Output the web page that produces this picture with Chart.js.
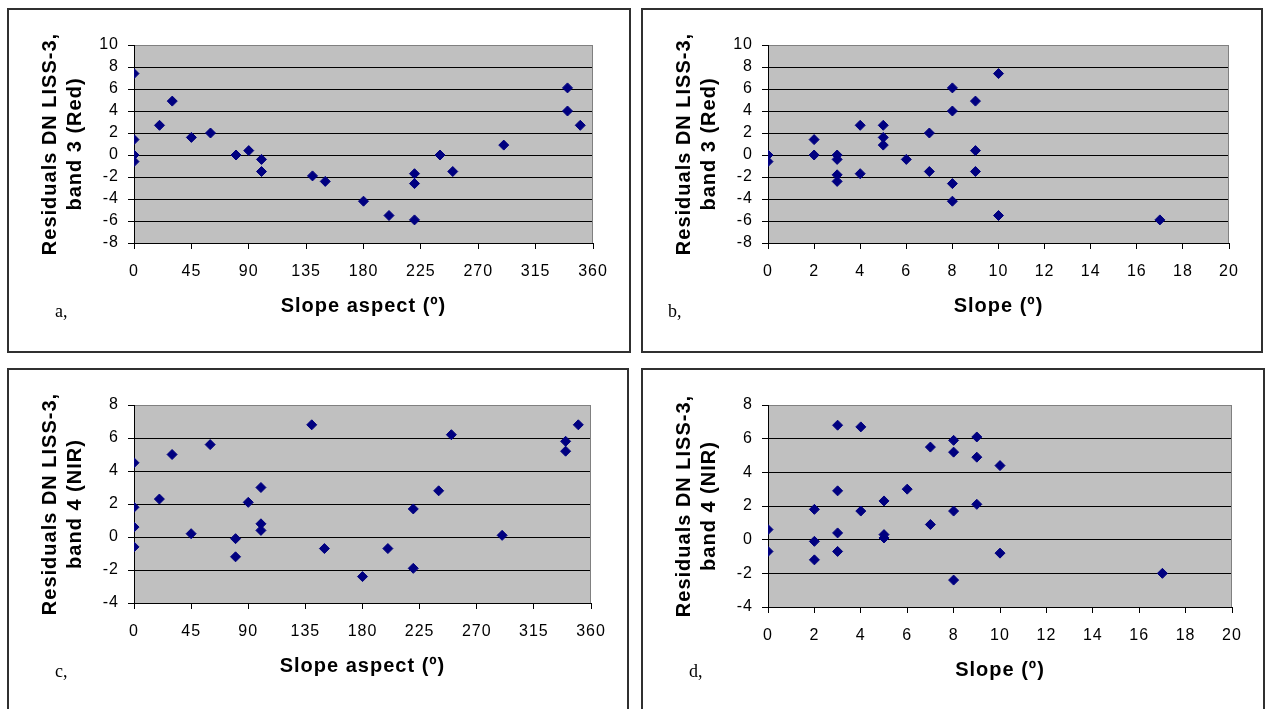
<!DOCTYPE html>
<html>
<head>
<meta charset="utf-8">
<title>Residuals DN LISS-3 vs slope and aspect</title>
<script src="https://cdn.jsdelivr.net/npm/chart.js@4.4.1/dist/chart.umd.min.js"></script>
<style>
    html, body { margin: 0; padding: 0; background: #fff; overflow: hidden; }
    body { width: 1266px; height: 709px; position: relative; }
    .frame { position: absolute; border: 2px solid #303030; box-sizing: border-box; }
    canvas { position: absolute; }
    .tag { position: absolute; font-family: 'Liberation Serif', 'Times New Roman', serif; font-size: 18px; line-height: 20px; color: #000; }
</style>
</head>
<body>
<div class="frame" style="left:7px;top:8px;width:624px;height:345px"></div>
<div class="frame" style="left:641px;top:8px;width:622px;height:345px"></div>
<div class="frame" style="left:7px;top:368px;width:622px;height:400px"></div>
<div class="frame" style="left:641px;top:368px;width:624px;height:400px"></div>

<canvas id="panelA" width="622" height="343" style="left:8px;top:9px"></canvas>
<canvas id="panelB" width="620" height="343" style="left:642px;top:9px"></canvas>
<canvas id="panelC" width="620" height="343" style="left:8px;top:369px"></canvas>
<canvas id="panelD" width="621" height="347" style="left:642px;top:369px"></canvas>

<div class="tag" style="left:55px;top:301px">a,</div>
<div class="tag" style="left:668px;top:301px">b,</div>
<div class="tag" style="left:55px;top:661px">c,</div>
<div class="tag" style="left:689px;top:661px">d,</div>

<script>
// band 3 (red) residuals against slope aspect and slope
const aspectRed = [0, 0, 0, 0, 20, 30, 45, 60, 80, 90, 100, 100, 140, 150, 180, 200, 220, 220, 220, 240, 250, 290, 340, 340, 350];
const residRedByAspect = [7.4, 1.4, 0, -0.6, 2.7, 4.9, 1.6, 2.0, 0, 0.4, -0.4, -1.5, -1.9, -2.4, -4.2, -5.5, -1.7, -2.6, -5.9, 0, -1.5, 0.9, 6.1, 4.0, 2.7];
const slopeRed = [0, 0, 2, 2, 3, 3, 3, 3, 4, 4, 5, 5, 5, 6, 7, 7, 8, 8, 8, 8, 9, 9, 9, 10, 10, 17];
const residRedBySlope = [0, -0.6, 1.4, 0, 0, -0.4, -1.8, -2.4, 2.7, -1.7, 2.7, 1.6, 0.9, -0.4, 2.0, -1.5, 6.1, 4.0, -2.6, -4.2, 4.9, 0.4, -1.5, 7.4, -5.5, -5.9];

// band 4 (NIR) residuals against slope aspect and slope
const aspectNir = [0, 0, 0, 0, 20, 30, 45, 60, 80, 80, 90, 100, 100, 100, 140, 150, 180, 200, 220, 220, 240, 250, 290, 340, 340, 350];
const residNirByAspect = [4.5, 1.8, 0.6, -0.6, 2.3, 5.0, 0.2, 5.6, -0.1, -1.2, 2.1, 3.0, 0.8, 0.4, 6.8, -0.7, -2.4, -0.7, 1.7, -1.9, 2.8, 6.2, 0.1, 5.8, 5.2, 6.8];
const slopeNir = [0, 0, 2, 2, 2, 3, 3, 3, 3, 4, 4, 5, 5, 5, 6, 7, 7, 8, 8, 8, 8, 9, 9, 9, 10, 10, 17];
const residNirBySlope = [0.6, -0.7, 1.8, -0.1, -1.2, 6.8, 2.9, 0.4, -0.7, 6.7, 1.7, 2.3, 0.3, 0.1, 3.0, 5.5, 0.9, 5.9, 5.2, 1.7, -2.4, 6.1, 4.9, 2.1, 4.4, -0.8, -2.0];

// axis ranges: [min, max, step]
const aspectAxis = [0, 360, 45];
const slopeAxis = [0, 20, 2];
const redAxis = [-8, 10, 2];
const nirAxis = [-4, 8, 2];

const aspectTitle = 'Slope aspect (º)';
const slopeTitle = 'Slope (º)';
const redTitle = ['Residuals DN LISS-3,', 'band 3 (Red)'];
const nirTitle = ['Residuals DN LISS-3,', 'band 4 (NIR)'];

Chart.defaults.color = '#000';
Chart.defaults.font.family = "'Liberation Sans', Arial, sans-serif";

// grey plot area, grey top/right edges, slightly spaced lettering
const plotFrame = {
    id: 'plotFrame',
    beforeDraw(chart) {
        const { ctx, chartArea: a } = chart;
        ctx.letterSpacing = '1px';
        ctx.save();
        ctx.fillStyle = '#c0c0c0';
        ctx.fillRect(a.left, a.top, a.right - a.left, a.bottom - a.top);
        ctx.restore();
    },
    beforeDatasetsDraw(chart) {
        const { ctx, chartArea: a } = chart;
        ctx.save();
        ctx.strokeStyle = '#808080';
        ctx.lineWidth = 1;
        ctx.beginPath();
        ctx.moveTo(Math.round(a.right) - 0.5, a.top);
        ctx.lineTo(Math.round(a.right) - 0.5, a.bottom);
        ctx.stroke();
        ctx.restore();
    }
};

function makePanel(id, xs, ys, xAxis, yAxis, xTitle, yTitle, padRight) {
    const points = xs.map((x, i) => ({ x: x, y: ys[i] }));
    new Chart(document.getElementById(id).getContext('2d'), {
        type: 'scatter',
        data: {
            datasets: [{
                data: points,
                pointStyle: 'rectRot',
                pointRadius: 5,
                pointBorderWidth: 1,
                backgroundColor: '#000080',
                borderColor: '#000080'
            }]
        },
        options: {
            responsive: false,
            animation: false,
            layout: { padding: { top: 36, right: padRight, left: 0, bottom: 0 } },
            plugins: { legend: { display: false }, tooltip: { enabled: false } },
            scales: {
                x: {
                    type: 'linear',
                    min: xAxis[0], max: xAxis[1],
                    afterFit: s => { s.height = 109; },
                    ticks: { stepSize: xAxis[2], autoSkip: false, maxRotation: 0, padding: 13, font: { size: 16 } },
                    grid: { drawOnChartArea: false, drawTicks: true, tickLength: 6, tickColor: '#000' },
                    border: { display: true, color: '#000', width: 1 },
                    title: {
                        display: true, text: xTitle,
                        font: { size: 20, weight: 'bold', lineHeight: 1.2 },
                        padding: { top: 0, bottom: 34 }
                    }
                },
                y: {
                    type: 'linear',
                    min: yAxis[0], max: yAxis[1],
                    afterFit: s => { s.width = 126; },
                    ticks: { stepSize: yAxis[2], autoSkip: false, padding: 9, font: { size: 16 } },
                    grid: {
                        color: c => (c.tick && c.tick.value === yAxis[1]) ? '#808080' : '#000',
                        lineWidth: 1, tickLength: 6, tickColor: '#000'
                    },
                    border: { display: true, color: '#000', width: 1 },
                    title: {
                        display: true, text: yTitle,
                        font: { size: 20, weight: 'bold', lineHeight: 1.25 },
                        padding: { top: 30, bottom: 0 }
                    }
                }
            }
        },
        plugins: [plotFrame]
    });
}

makePanel('panelA', aspectRed, residRedByAspect, aspectAxis, redAxis, aspectTitle, redTitle, 37);
makePanel('panelB', slopeRed, residRedBySlope, slopeAxis, redAxis, slopeTitle, redTitle, 33);
makePanel('panelC', aspectNir, residNirByAspect, aspectAxis, nirAxis, aspectTitle, nirTitle, 37);
makePanel('panelD', slopeNir, residNirBySlope, slopeAxis, nirAxis, slopeTitle, nirTitle, 31);
</script>
</body>
</html>
